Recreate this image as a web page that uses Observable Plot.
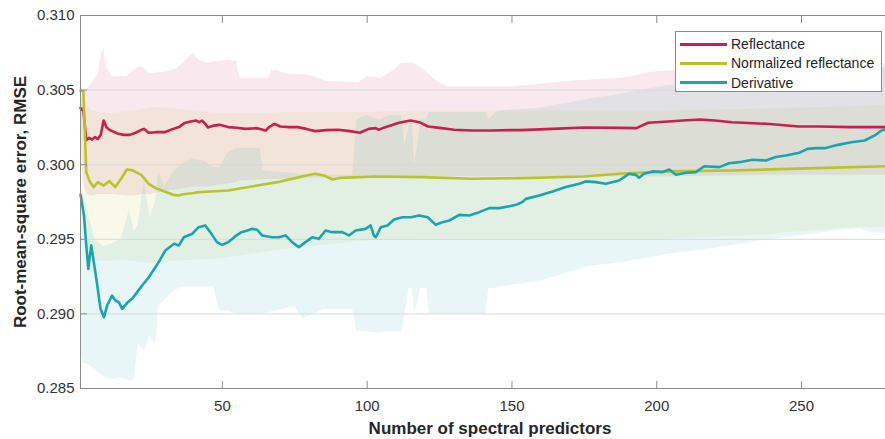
<!DOCTYPE html>
<html><head><meta charset="utf-8">
<script src="https://cdn.jsdelivr.net/npm/d3@7"></script>
<script src="https://cdn.jsdelivr.net/npm/@observablehq/plot@0.6"></script>
<style>
body{margin:0;background:#fff;}
#wrap{position:relative;width:885px;height:439px;font-family:"Liberation Sans",Arial,sans-serif;overflow:hidden;}
#legend{position:absolute;left:675px;top:31px;width:207px;height:61px;border:1px solid #8c8c8c;background:#fff;box-sizing:border-box;font-size:14px;color:#262626;}
.item{position:absolute;left:4px;height:20px;display:flex;align-items:center;white-space:nowrap;}
.sw{width:47px;height:3px;margin-right:4px;}
</style></head><body><div id="wrap"><div id="legend"></div></div>
<script>
const seriesNames = ["Reflectance", "Normalized reflectance", "Derivative"];
const seriesColors = ["#C8204A", "#B9C42A", "#1AA5AE"];
const xTicks = [50, 100, 150, 200, 250];
const yTicks = [0.285, 0.290, 0.295, 0.300, 0.305, 0.310];
const xDomain = [1, 279];
const yDomain = [0.285, 0.310];
const xLabel = "Number of spectral predictors";
const yLabel = "Root-mean-square error, RMSE";

// Reflectance mean line
const refN = [1,2,3,4,5,6,7,8,9,10,11,12,14,16,18,20,22,23,24.5,27,30,33,35,37,39,41,42,43,44,45,47,49,52,55,58,62,65,66,68,70,73,76,79,82,86,90,94,97.5,100.5,103,104,106,111,115,118,121,125,130,136,143,150,153,164,175,187,193,197,204,209,215,220,226,238,249,256,267,279];
const refV = [0.30380,0.30360,0.30165,0.30180,0.30168,0.30185,0.30172,0.30200,0.30296,0.30250,0.30234,0.30225,0.30207,0.30200,0.30200,0.30214,0.30234,0.30240,0.30214,0.30218,0.30218,0.30240,0.30252,0.30280,0.30290,0.30296,0.30285,0.30296,0.30275,0.30250,0.30262,0.30267,0.30252,0.30248,0.30240,0.30245,0.30229,0.30250,0.30274,0.30256,0.30252,0.30252,0.30240,0.30225,0.30232,0.30234,0.30225,0.30214,0.30240,0.30245,0.30234,0.30250,0.30281,0.30296,0.30285,0.30256,0.30247,0.30234,0.30229,0.30229,0.30232,0.30232,0.30240,0.30249,0.30247,0.30245,0.30281,0.30290,0.30296,0.30303,0.30296,0.30285,0.30274,0.30256,0.30256,0.30252,0.30252];

// Normalized reflectance mean line
const normN = [1,2,3,4,5.5,7,9,11,13,15,17,19,22,24.5,27,30,33,35,36,38,40,42,46,52,62,69,74,79,82,85,88,91,103,119,136,153,175,187,204,226,255,279];
const normV = [0.30497,0.30490,0.29950,0.29894,0.29850,0.29883,0.29860,0.29890,0.29850,0.29905,0.29968,0.29962,0.29932,0.29872,0.29843,0.29820,0.29798,0.29794,0.29800,0.29805,0.29810,0.29816,0.29820,0.29827,0.29860,0.29883,0.29905,0.29928,0.29939,0.29928,0.29901,0.29912,0.29921,0.29917,0.29906,0.29910,0.29921,0.29939,0.29955,0.29961,0.29977,0.29990];

// Derivative mean line
const derN = [1,2.2,3,3.7,4.1,4.7,5.6,6.8,7.9,9.1,10.2,11.9,13.1,14.2,15.4,17.1,18.8,20.6,22.3,24.6,28,30.3,33.3,35,36.7,39.6,41.8,44.1,45.8,48.1,49.9,52,54.5,56.6,58.6,60.3,62,63.7,67.2,69.5,71.8,74.1,76.4,78.7,81,83.3,85.6,87.9,91.4,93.7,96,99.4,101.2,102.3,103,104.7,107,109.3,112.2,115.1,118,120.9,123.7,126,128.4,131.8,135.3,138.7,142.2,145.6,149.1,151.4,153.6,154.8,159.4,164,168.6,173.2,175.5,178.9,182.4,187,190.4,192.7,193.9,195.6,198.5,202,204.3,206.6,210.1,213.5,216.4,221.6,225,228.5,233.1,237.7,241.1,244.6,249.2,252.1,255,258,262.6,267.2,271.8,275.3,277.6,279];
const derV = [0.29800,0.29660,0.29459,0.29302,0.29369,0.29459,0.29347,0.29190,0.29034,0.28978,0.29056,0.29123,0.29090,0.29079,0.29034,0.29074,0.29101,0.29146,0.29190,0.29246,0.29347,0.29425,0.29470,0.29459,0.29514,0.29537,0.29581,0.29593,0.29548,0.29481,0.29463,0.29481,0.29521,0.29548,0.29559,0.29570,0.29564,0.29526,0.29514,0.29514,0.29526,0.29481,0.29447,0.29481,0.29514,0.29503,0.29559,0.29548,0.29548,0.29526,0.29559,0.29570,0.29593,0.29526,0.29514,0.29581,0.29593,0.29633,0.29648,0.29648,0.29660,0.29648,0.29597,0.29615,0.29626,0.29664,0.29660,0.29682,0.29709,0.29709,0.29722,0.29731,0.29750,0.29771,0.29794,0.29820,0.29850,0.29872,0.29888,0.29883,0.29872,0.29894,0.29939,0.29932,0.29912,0.29939,0.29955,0.29950,0.29968,0.29932,0.29946,0.29950,0.29990,0.29984,0.30010,0.30017,0.30033,0.30028,0.30051,0.30062,0.30080,0.30106,0.30111,0.30111,0.30133,0.30151,0.30162,0.30196,0.30229,0.30236];

// Reflectance range band
const refBandN  = [1,2,3,5,7,8,9,10,12,17,20,22,25,30,34,37,40,42,45,52,55,56,66,67,69,72,80,86,97,100,105,109,112,116,120,124,128,150,170,187,191,198,205,240,279];
const refBandLo = [0.3031,0.2990,0.2980,0.2979,0.2980,0.2980,0.2980,0.2980,0.2980,0.2979,0.2979,0.2980,0.2980,0.2982,0.2983,0.2984,0.2985,0.2985,0.2985,0.2987,0.2988,0.2989,0.2990,0.2990,0.2990,0.2990,0.2991,0.2991,0.2991,0.2991,0.2991,0.2991,0.2991,0.2991,0.2991,0.2992,0.2992,0.2992,0.2992,0.2992,0.2992,0.2992,0.2992,0.2993,0.2993];
const refBandHi = [0.3044,0.3046,0.3050,0.3055,0.3060,0.3072,0.3078,0.3065,0.3059,0.3059,0.3064,0.3066,0.3061,0.3062,0.3064,0.3069,0.3075,0.3070,0.3068,0.3070,0.3069,0.3058,0.3058,0.3063,0.3063,0.3061,0.3060,0.3056,0.3055,0.3059,0.3058,0.3063,0.3068,0.3068,0.3063,0.3056,0.3052,0.3052,0.3056,0.3058,0.3059,0.3062,0.3063,0.3063,0.3065];

// Normalized reflectance range band
const normBandN  = [1,2,3,5,10,15,20,25,30,40,50,60,75,90,100,120,150,200,230,250,270,279];
const normBandLo = [0.3035,0.2960,0.2940,0.2936,0.2935,0.2936,0.2935,0.2934,0.2935,0.2936,0.2937,0.2940,0.2944,0.2947,0.2949,0.2950,0.2950,0.2950,0.2952,0.2955,0.2958,0.2958];
const normBandHi = [0.3058,0.3050,0.3040,0.3036,0.3034,0.3035,0.3036,0.3038,0.3038,0.3036,0.3034,0.3034,0.3035,0.3035,0.3035,0.3036,0.3036,0.3036,0.3037,0.3038,0.3039,0.3040];

// Derivative range band
const derBandN  = [1,2,4,6,9,12,15,18,19.5,21,23,25,27,28,30,33,36,40,44,47,49,52,55,63,64,75,78,85,95,96.5,100,104,108,112,113,114.5,115.5,116.5,118.5,120.5,121.5,141,142,144.5,145.5,160,177,190,204,220,240,260,270,275,279];
const derBandLo = [0.2875,0.2867,0.2866,0.2862,0.2858,0.2856,0.2857,0.2855,0.2855,0.2880,0.2875,0.2885,0.2880,0.2905,0.2909,0.2915,0.2918,0.2918,0.2918,0.2918,0.2902,0.2902,0.2900,0.2900,0.2900,0.2905,0.2897,0.2903,0.2903,0.2888,0.2888,0.2887,0.2888,0.2888,0.2900,0.2917,0.2917,0.2900,0.2917,0.2917,0.2900,0.2900,0.2917,0.2917,0.2918,0.2922,0.2932,0.2935,0.2940,0.2944,0.2950,0.2955,0.2957,0.2954,0.2954];
const derBandHi = [0.2985,0.2980,0.2965,0.2950,0.2945,0.2947,0.2950,0.2970,0.2955,0.2960,0.2990,0.2965,0.2975,0.2995,0.2985,0.2995,0.3000,0.3004,0.3002,0.2998,0.2998,0.3008,0.3011,0.3011,0.2996,0.2994,0.2993,0.2993,0.2993,0.3030,0.3033,0.3030,0.3033,0.3033,0.3012,0.3025,0.3030,0.3000,0.3030,0.3030,0.3035,0.3035,0.3030,0.3035,0.3036,0.3038,0.3044,0.3048,0.3053,0.3055,0.3058,0.3062,0.3064,0.3066,0.3068];

const toLine = (N, V) => N.map((n, i) => ({n, v: V[i]}));
const toBand = (N, L, H) => N.map((n, i) => ({n, lo: L[i], hi: H[i]}));

const lines = [toLine(refN, refV), toLine(normN, normV), toLine(derN, derV)];
const bands = [toBand(refBandN, refBandLo, refBandHi), toBand(normBandN, normBandLo, normBandHi), toBand(derBandN, derBandLo, derBandHi)];

const axisColor = "#8c8c8c";
const textColor = "#333333";

const chart = Plot.plot({
  width: 885,
  height: 439,
  marginLeft: 80,
  marginRight: 0,
  marginTop: 15,
  marginBottom: 51,
  style: {fontFamily: "Liberation Sans, Arial, sans-serif", fontSize: "15px", color: textColor, background: "white", overflow: "visible"},
  x: {domain: xDomain, label: null},
  y: {domain: yDomain, label: null},
  marks: [
    ...bands.map((b, i) => Plot.areaY(b, {x: "n", y1: "lo", y2: "hi", fill: seriesColors[i], fillOpacity: 0.1})),
    Plot.gridY(yTicks, {stroke: "#d9d9d9", strokeOpacity: 1}),
    ...lines.map((l, i) => Plot.lineY(l, {x: "n", y: "v", stroke: seriesColors[i], strokeWidth: 2.6})),
    Plot.ruleY([yDomain[0]], {stroke: axisColor}),
    Plot.ruleY([yDomain[1]], {stroke: axisColor}),
    Plot.ruleX([xDomain[0]], {stroke: axisColor}),
    Plot.axisX(xTicks, {anchor: "bottom", tickSize: -7, tickPadding: 19, stroke: axisColor, fill: textColor}),
    Plot.axisX(xTicks, {anchor: "top", tickSize: -7, tickFormat: () => "", stroke: axisColor}),
    Plot.axisY(yTicks, {anchor: "left", tickSize: -7, tickPadding: 13, tickFormat: d3.format(".3f"), stroke: axisColor, fill: textColor}),
    Plot.text([xLabel], {frameAnchor: "bottom", text: d => d, dx: 7, dy: 39.6, lineAnchor: "middle", textAnchor: "middle", fontSize: 17, fontWeight: "bold", fill: "#262626"}),
    Plot.text([yLabel], {frameAnchor: "left", text: d => d, rotate: -90, dx: -59.5, lineAnchor: "middle", textAnchor: "middle", fontSize: 17, fontWeight: "bold", fill: "#262626"})
  ]
});

const wrap = document.getElementById("wrap");
wrap.insertBefore(chart, wrap.firstChild);

const legend = document.getElementById("legend");
const rowTops = [2, 21, 40.5];
seriesNames.forEach((name, i) => {
  const item = document.createElement("div");
  item.className = "item";
  item.style.top = rowTops[i] + "px";
  const sw = document.createElement("div");
  sw.className = "sw";
  sw.style.background = seriesColors[i];
  const t = document.createElement("span");
  t.textContent = name;
  item.appendChild(sw);
  item.appendChild(t);
  legend.appendChild(item);
});
</script></body></html>
